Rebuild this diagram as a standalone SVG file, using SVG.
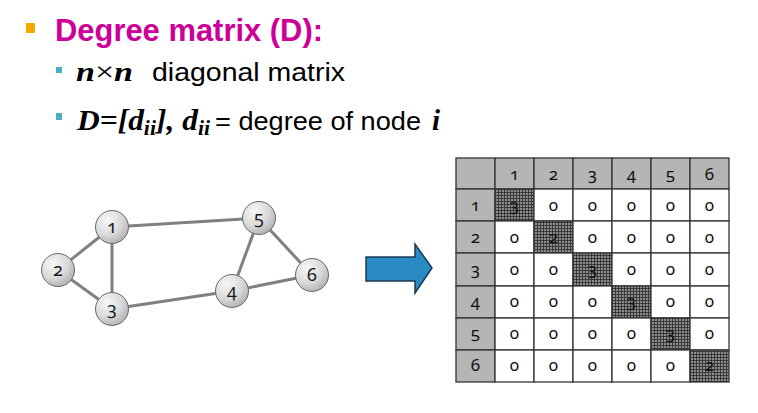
<svg xmlns="http://www.w3.org/2000/svg" width="758" height="413" viewBox="0 0 758 413">
<defs>
  <radialGradient id="ng" cx="0.35" cy="0.3" r="0.75">
    <stop offset="0" stop-color="#f7f7f7"/>
    <stop offset="0.6" stop-color="#d9d9d9"/>
    <stop offset="1" stop-color="#b0b0b0"/>
  </radialGradient>
  <pattern id="hatch" width="3" height="3" patternUnits="userSpaceOnUse">
    <rect width="3" height="3" fill="#8c8c8c"/>
    <path d="M0 0.5H3M0.5 0V3" stroke="#2a2a2a" stroke-width="0.8"/>
  </pattern>
  <style>
    .title{font-family:"Liberation Sans",Arial,sans-serif;font-weight:bold;fill:#CC0099;font-size:31px}
    .body{font-family:"Liberation Sans",Arial,sans-serif;fill:#000;font-size:26px}
    .math{font-family:"Liberation Serif","Times New Roman",serif;font-weight:bold;font-style:italic;fill:#000}
    .node circle{fill:url(#ng);stroke:#6a6a6a;stroke-width:1}
    .node text{font-family:"Noto Sans","Open Sans",sans-serif;font-variant-numeric:oldstyle-nums;font-size:18px;fill:#1a1a1a;text-anchor:middle}
    .edge{stroke:#808080;stroke-width:3;fill:none}
    .cell{stroke:#333;stroke-width:1.3}
    .hdr{fill:#b5b5b5}
    .wht{fill:#fff}
    .dg{fill:url(#hatch)}
    .t{font-family:"Noto Sans","Open Sans",sans-serif;font-variant-numeric:oldstyle-nums;font-size:17px;fill:#111;text-anchor:middle}
  </style>
</defs>
<rect width="758" height="413" fill="#fff"/>

<g id="text">
  <rect x="26" y="23" width="9" height="10" fill="#F2A900"/>
  <text class="title" x="55" y="41" textLength="268" lengthAdjust="spacingAndGlyphs">Degree matrix (D):</text>
  <rect x="56" y="67" width="6" height="6" fill="#4BACC6"/>
  <text x="76" y="81" class="math" font-size="28" textLength="57" lengthAdjust="spacingAndGlyphs">n<tspan font-style="normal" font-weight="normal">×</tspan>n</text>
  <text x="152" y="81" class="body" textLength="193" lengthAdjust="spacingAndGlyphs">diagonal matrix</text>
  <rect x="56" y="113" width="6" height="7" fill="#4BACC6"/>
  <text x="77" y="130" class="math" font-size="29" textLength="133" lengthAdjust="spacingAndGlyphs">D=[d<tspan font-size="20" dy="5">ii</tspan><tspan dy="-5">], d</tspan><tspan font-size="20" dy="5">ii</tspan></text>
  <text x="215" y="130" class="body" textLength="206" lengthAdjust="spacingAndGlyphs">= degree of node</text>
  <text x="432" y="130" class="math" font-size="29">i</text>
</g>

<g id="connectors">
  <line class="edge" x1="112" y1="227" x2="58" y2="270"/>
  <line class="edge" x1="112" y1="227" x2="112" y2="309"/>
  <line class="edge" x1="58" y1="270" x2="112" y2="309"/>
  <line class="edge" x1="112" y1="227" x2="259" y2="218"/>
  <line class="edge" x1="112" y1="309" x2="232" y2="291"/>
  <line class="edge" x1="232" y1="291" x2="259" y2="218"/>
  <line class="edge" x1="232" y1="291" x2="312" y2="275"/>
  <line class="edge" x1="259" y1="218" x2="312" y2="275"/>
</g>

<g id="node1" class="node"><circle cx="112" cy="227" r="16.5"/><text x="112" y="233">1</text></g>
<g id="node2" class="node"><circle cx="58" cy="270" r="16.5"/><text x="58" y="276">2</text></g>
<g id="node3" class="node"><circle cx="112" cy="309" r="16.5"/><text x="112" y="315">3</text></g>
<g id="node4" class="node"><circle cx="232" cy="291" r="16.5"/><text x="232" y="297">4</text></g>
<g id="node5" class="node"><circle cx="259" cy="218" r="16.5"/><text x="259" y="224">5</text></g>
<g id="node6" class="node"><circle cx="312" cy="275" r="16.5"/><text x="312" y="281">6</text></g>

<g id="arrow">
  <path d="M366 257H415V244L432 268L415 293V281H366Z" fill="#2A8AC4" stroke="#1B3A52" stroke-width="1.5"/>
</g>

<g id="matrix">
  <g class="cell">
    <rect class="hdr" x="456" y="158" width="39" height="31"/>
    <rect class="hdr" x="495" y="158" width="39" height="31"/>
    <rect class="hdr" x="534" y="158" width="39" height="31"/>
    <rect class="hdr" x="573" y="158" width="39" height="31"/>
    <rect class="hdr" x="612" y="158" width="39" height="31"/>
    <rect class="hdr" x="651" y="158" width="39" height="31"/>
    <rect class="hdr" x="690" y="158" width="39" height="31"/>

    <rect class="hdr" x="456" y="189" width="39" height="32"/>
    <rect class="dg" x="495" y="189" width="39" height="32"/>
    <rect class="wht" x="534" y="189" width="39" height="32"/>
    <rect class="wht" x="573" y="189" width="39" height="32"/>
    <rect class="wht" x="612" y="189" width="39" height="32"/>
    <rect class="wht" x="651" y="189" width="39" height="32"/>
    <rect class="wht" x="690" y="189" width="39" height="32"/>

    <rect class="hdr" x="456" y="221" width="39" height="32"/>
    <rect class="wht" x="495" y="221" width="39" height="32"/>
    <rect class="dg" x="534" y="221" width="39" height="32"/>
    <rect class="wht" x="573" y="221" width="39" height="32"/>
    <rect class="wht" x="612" y="221" width="39" height="32"/>
    <rect class="wht" x="651" y="221" width="39" height="32"/>
    <rect class="wht" x="690" y="221" width="39" height="32"/>

    <rect class="hdr" x="456" y="253" width="39" height="33"/>
    <rect class="wht" x="495" y="253" width="39" height="33"/>
    <rect class="wht" x="534" y="253" width="39" height="33"/>
    <rect class="dg" x="573" y="253" width="39" height="33"/>
    <rect class="wht" x="612" y="253" width="39" height="33"/>
    <rect class="wht" x="651" y="253" width="39" height="33"/>
    <rect class="wht" x="690" y="253" width="39" height="33"/>

    <rect class="hdr" x="456" y="286" width="39" height="32"/>
    <rect class="wht" x="495" y="286" width="39" height="32"/>
    <rect class="wht" x="534" y="286" width="39" height="32"/>
    <rect class="wht" x="573" y="286" width="39" height="32"/>
    <rect class="dg" x="612" y="286" width="39" height="32"/>
    <rect class="wht" x="651" y="286" width="39" height="32"/>
    <rect class="wht" x="690" y="286" width="39" height="32"/>

    <rect class="hdr" x="456" y="318" width="39" height="32"/>
    <rect class="wht" x="495" y="318" width="39" height="32"/>
    <rect class="wht" x="534" y="318" width="39" height="32"/>
    <rect class="wht" x="573" y="318" width="39" height="32"/>
    <rect class="wht" x="612" y="318" width="39" height="32"/>
    <rect class="dg" x="651" y="318" width="39" height="32"/>
    <rect class="wht" x="690" y="318" width="39" height="32"/>

    <rect class="hdr" x="456" y="350" width="39" height="32"/>
    <rect class="wht" x="495" y="350" width="39" height="32"/>
    <rect class="wht" x="534" y="350" width="39" height="32"/>
    <rect class="wht" x="573" y="350" width="39" height="32"/>
    <rect class="wht" x="612" y="350" width="39" height="32"/>
    <rect class="wht" x="651" y="350" width="39" height="32"/>
    <rect class="dg" x="690" y="350" width="39" height="32"/>
  </g>
  <g class="t">
    <text x="514.5" y="180">1</text><text x="553.5" y="180">2</text><text x="592.5" y="180">3</text><text x="631.5" y="180">4</text><text x="670.5" y="180">5</text><text x="709.5" y="180">6</text>

    <text x="475.5" y="211">1</text><text x="514.5" y="211">3</text><text x="553.5" y="211">0</text><text x="592.5" y="211">0</text><text x="631.5" y="211">0</text><text x="670.5" y="211">0</text><text x="709.5" y="211">0</text>
    <text x="475.5" y="243">2</text><text x="514.5" y="243">0</text><text x="553.5" y="243">2</text><text x="592.5" y="243">0</text><text x="631.5" y="243">0</text><text x="670.5" y="243">0</text><text x="709.5" y="243">0</text>
    <text x="475.5" y="275">3</text><text x="514.5" y="275">0</text><text x="553.5" y="275">0</text><text x="592.5" y="275">3</text><text x="631.5" y="275">0</text><text x="670.5" y="275">0</text><text x="709.5" y="275">0</text>
    <text x="475.5" y="307">4</text><text x="514.5" y="307">0</text><text x="553.5" y="307">0</text><text x="592.5" y="307">0</text><text x="631.5" y="307">3</text><text x="670.5" y="307">0</text><text x="709.5" y="307">0</text>
    <text x="475.5" y="339">5</text><text x="514.5" y="339">0</text><text x="553.5" y="339">0</text><text x="592.5" y="339">0</text><text x="631.5" y="339">0</text><text x="670.5" y="339">3</text><text x="709.5" y="339">0</text>
    <text x="475.5" y="371">6</text><text x="514.5" y="371">0</text><text x="553.5" y="371">0</text><text x="592.5" y="371">0</text><text x="631.5" y="371">0</text><text x="670.5" y="371">0</text><text x="709.5" y="371">2</text>
  </g>
</g>
</svg>
